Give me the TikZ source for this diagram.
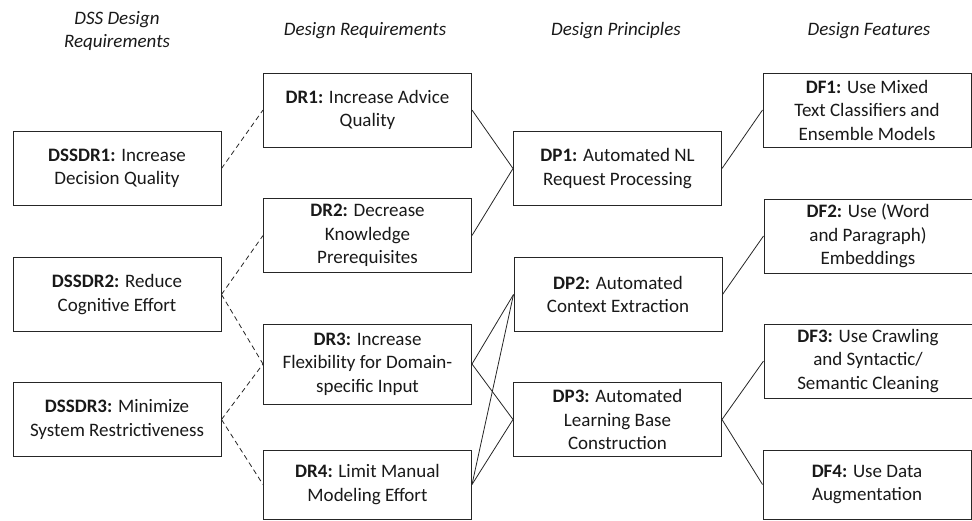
\documentclass[tikz,border=0pt]{standalone}
\usepackage{fontspec}
\setmainfont{Carlito}
\begin{document}
\begin{tikzpicture}[x=1pt,y=-1pt,
	box/.style={draw=black!85,line width=1pt,minimum width=208pt,minimum height=74pt,inner sep=0pt,align=center,font=\fontsize{19}{23.5}\selectfont,text=black!90},
	head/.style={align=center,font=\fontsize{19}{23.5}\selectfont\itshape,text=black!90},
	link/.style={black!85,line width=0.8pt},
	dlink/.style={link,dash pattern=on 5pt off 3.5pt}]
	\useasboundingbox (0,0) rectangle (972,520);
	% column headings
	\node[head] (hdss) at (117,31) {DSS Design\\Requirements};
	\node[head] (hdr) at (365,31) {Design Requirements};
	\node[head] (hdp) at (616,31) {Design Principles};
	\node[head] (hdf) at (869,31) {Design Features};
	% DSS design requirements
	\node[box] (dssdr1) at (117,168.5) {\textbf{DSSDR1:} Increase\\Decision Quality};
	\node[box] (dssdr2) at (117,294.5) {\textbf{DSSDR2:} Reduce\\Cognitive Effort};
	\node[box] (dssdr3) at (117,419.5) {\textbf{DSSDR3:} Minimize\\System Restrictiveness};
	% design requirements
	\node[box] (dr1) at (367.5,110) {\textbf{DR1:} Increase Advice\\Quality};
	\node[box] (dr2) at (367.5,235.5) {\textbf{DR2:} Decrease\\Knowledge\\Prerequisites};
	\node[box,minimum height=80pt] (dr3) at (367.5,364) {\textbf{DR3:} Increase\\Flexibility for Domain-\\specific Input};
	\node[box,minimum height=69pt] (dr4) at (367.5,484.5) {\textbf{DR4:} Limit Manual\\Modeling Effort};
	% design principles
	\node[box] (dp1) at (617.5,168.5) {\textbf{DP1:} Automated NL\\Request Processing};
	\node[box] (dp2) at (618,294.5) {\textbf{DP2:} Automated\\Context Extraction};
	\node[box] (dp3) at (617.5,419.5) {\textbf{DP3:} Automated\\Learning Base\\Construction};
	% design features
	\node[box] (df1) at (867,110) {\textbf{DF1:} Use Mixed\\Text Classifiers and\\Ensemble Models};
	\node[box] (df2) at (868,236) {\textbf{DF2:} Use (Word\\and Paragraph)\\Embeddings};
	\node[box] (df3) at (868,361) {\textbf{DF3:} Use Crawling\\and Syntactic/\\Semantic Cleaning};
	\node[box,minimum height=69pt] (df4) at (867,484.5) {\textbf{DF4:} Use Data\\Augmentation};
	% links
	\draw[dlink] (dssdr1.east) -- (dr1.west);
	\draw[dlink] (dssdr2.east) -- (dr2.west);
	\draw[dlink] (dssdr2.east) -- (dr3.west);
	\draw[dlink] (dssdr3.east) -- (dr3.west);
	\draw[dlink] (dssdr3.east) -- (dr4.west);
	\draw[link] (dr1.east) -- (dp1.west);
	\draw[link] (dr2.east) -- (dp1.west);
	\draw[link] (dr3.east) -- (dp2.west);
	\draw[link] (dr3.east) -- (dp3.west);
	\draw[link] (dr4.east) -- (dp2.west);
	\draw[link] (dr4.east) -- (dp3.west);
	\draw[link] (dp1.east) -- (df1.west);
	\draw[link] (dp2.east) -- (df2.west);
	\draw[link] (dp3.east) -- (df3.west);
	\draw[link] (dp3.east) -- (df4.west);
\end{tikzpicture}
\end{document}
